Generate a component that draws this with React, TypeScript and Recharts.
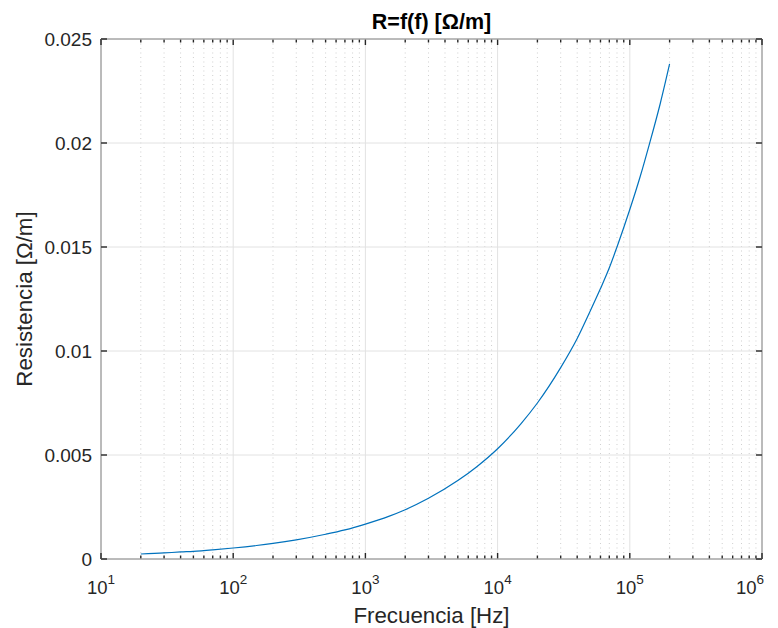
import React from 'react';
import { LineChart, Line, XAxis, YAxis, ReferenceLine, ReferenceArea } from 'recharts';

// frequency [Hz] and resistance [ohm/m]
const frequencies = [
  20, 30, 40, 50, 70, 100, 150, 200, 300, 500, 700, 1000, 1500, 2000, 3000, 5000, 7000,
  10000, 15000, 20000, 30000, 40000, 50000, 60000, 70000, 80000, 100000, 120000, 140000,
  170000, 200000,
];
const resistance = [
  0.00024, 0.00029, 0.00034, 0.00037, 0.00044, 0.00053, 0.00065, 0.00075, 0.00092, 0.00119,
  0.0014, 0.00168, 0.00205, 0.00237, 0.00292, 0.00377, 0.00445, 0.0053, 0.0065, 0.0075,
  0.0092, 0.0106, 0.0119, 0.013, 0.014, 0.015, 0.0168, 0.0184, 0.0199, 0.0219, 0.0238,
];

const xDecades = [10, 100, 1000, 10000, 100000, 1000000];
const xExponents = ['1', '2', '3', '4', '5', '6'];
const minorSteps = [2, 3, 4, 5, 6, 7, 8, 9];
const yTicks = [0, 0.005, 0.01, 0.015, 0.02, 0.025];
const yTickLabels = ['0', '0.005', '0.01', '0.015', '0.02', '0.025'];

const data = frequencies.map((f, i) => ({ f, r: resistance[i] }));
const minorX = xDecades.slice(0, -1).flatMap((d) => minorSteps.map((m) => d * m));

const FONT = '"Liberation Sans", Arial, Helvetica, sans-serif';
const AXIS = '#262626';

const VGrid = (p: any, major: boolean) => {
  const top = Math.min(p.y1, p.y2);
  const bottom = Math.max(p.y1, p.y2);
  const len = major ? 6 : 3.5;
  return (
    <g>
      <line
        x1={p.x1} x2={p.x2} y1={top} y2={bottom}
        stroke={major ? '#e2e2e2' : '#cfcfcf'}
        strokeWidth={1}
        strokeDasharray={major ? undefined : '1 3.5'}
      />
      <line x1={p.x1} x2={p.x1} y1={bottom} y2={bottom - len} stroke={AXIS} strokeWidth={1.4} />
      <line x1={p.x1} x2={p.x1} y1={top} y2={top + len} stroke={AXIS} strokeWidth={1.4} />
    </g>
  );
};

const HGrid = (p: any) => {
  const left = Math.min(p.x1, p.x2);
  const right = Math.max(p.x1, p.x2);
  return (
    <g>
      <line x1={left} x2={right} y1={p.y1} y2={p.y1} stroke="#e2e2e2" strokeWidth={1} />
      <line x1={left} x2={left + 6} y1={p.y1} y2={p.y1} stroke={AXIS} strokeWidth={1.4} />
      <line x1={right} x2={right - 6} y1={p.y1} y2={p.y1} stroke={AXIS} strokeWidth={1.4} />
    </g>
  );
};

const XTick = ({ x, payload }: any) => {
  const exp = xExponents[xDecades.indexOf(payload.value)];
  return (
    <text x={x} y={594} textAnchor="middle" fontFamily={FONT} fontSize={18.5} fill={AXIS}>
      <tspan>10</tspan>
      <tspan dy={-10} fontSize={13.5}>{exp}</tspan>
    </text>
  );
};

const YTick = ({ y, payload }: any) => (
  <text x={92} y={y} dy={6.5} textAnchor="end" fontFamily={FONT} fontSize={19} fill={AXIS}>
    {yTickLabels[yTicks.indexOf(payload.value)]}
  </text>
);

export default function App() {
  return (
    <div style={{ position: 'absolute', left: 0, top: 0, width: 778, height: 628, background: '#fff' }}>
      <LineChart
        width={778}
        height={628}
        data={data}
        margin={{ top: 39, right: 16, bottom: 0, left: 0 }}
      >
        <XAxis
          dataKey="f"
          type="number"
          scale="log"
          domain={[10, 1000000]}
          ticks={xDecades}
          tick={XTick}
          axisLine={false}
          tickLine={false}
          height={69}
          allowDataOverflow
          label={{
            content: ({ viewBox }: any) => (
              <text
                x={viewBox.x + viewBox.width / 2}
                y={623}
                textAnchor="middle"
                fontFamily={FONT}
                fontSize={22.3}
                fill={AXIS}
              >
                Frecuencia [Hz]
              </text>
            ),
          }}
        />
        <YAxis
          type="number"
          domain={[0, 0.025]}
          ticks={yTicks}
          tick={YTick}
          axisLine={false}
          tickLine={false}
          width={101}
          allowDataOverflow
          label={{
            content: ({ viewBox }: any) => {
              const cy = viewBox.y + viewBox.height / 2;
              return (
                <text
                  x={32}
                  y={cy}
                  transform={`rotate(-90, 32, ${cy})`}
                  textAnchor="middle"
                  fontFamily={FONT}
                  fontSize={22.3}
                  fill={AXIS}
                >
                  Resistencia [Ω/m]
                </text>
              );
            },
          }}
        />
        {minorX.map((v) => (
          <ReferenceLine key={`mx${v}`} x={v} shape={(p: any) => VGrid(p, false)} />
        ))}
        {xDecades.map((v) => (
          <ReferenceLine key={`x${v}`} x={v} shape={(p: any) => VGrid(p, true)} />
        ))}
        {yTicks.map((v) => (
          <ReferenceLine key={`y${v}`} y={v} shape={HGrid} />
        ))}
        <ReferenceArea
          x1={10}
          x2={1000000}
          y1={0}
          y2={0.025}
          fill="none"
          fillOpacity={0}
          stroke={AXIS}
          strokeWidth={1}
          label={({ viewBox }: any) => (
            <text
              x={viewBox.x + viewBox.width / 2}
              y={29}
              textAnchor="middle"
              fontFamily={FONT}
              fontSize={21.5}
              fontWeight="bold"
              fill="#000"
            >
              R=f(f) [Ω/m]
            </text>
          )}
        />
        <Line
          dataKey="r"
          type="monotone"
          stroke="#0072BD"
          strokeWidth={1.2}
          dot={false}
          isAnimationActive={false}
        />
      </LineChart>
    </div>
  );
}
